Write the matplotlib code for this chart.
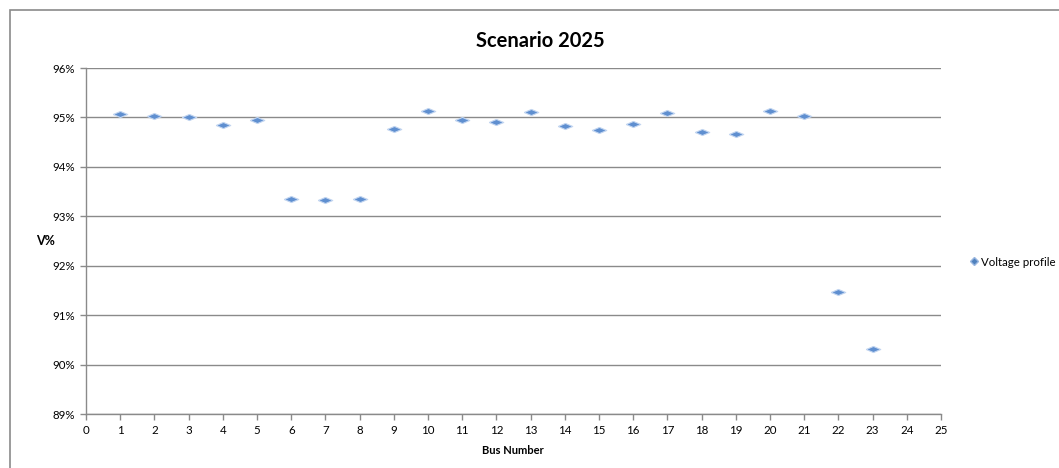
import matplotlib.pyplot as plt
from matplotlib.patches import Rectangle
from matplotlib.ticker import FuncFormatter

# Voltage profile per bus, scenario 2025
bus = list(range(1, 24))
volt = [95.07, 95.02, 95.00, 94.85, 94.95, 93.35, 93.32, 93.35, 94.77, 95.14,
        94.94, 94.90, 95.10, 94.83, 94.75, 94.87, 95.08, 94.71, 94.67, 95.14,
        95.02, 91.46, 90.32]

plt.rcParams['font.family'] = ['Lato', 'DejaVu Sans']
grey = '#8a8a8a'

fig = plt.figure(figsize=(10.59, 4.68), dpi=100)
ax = fig.add_axes([86/1059, 1 - 414/468, (941 - 86)/1059, (414 - 68)/468])

# outer chart frame (only top and left edges visible)
fig.patches.append(Rectangle((10/1059, -0.1), 1.2, 1 - 10/468 + 0.1,
                             transform=fig.transFigure, fill=False,
                             edgecolor=grey, lw=1.2))

# flattened diamond, like the stretched excel markers
flat = [(-1, 0), (0, 0.42), (1, 0), (0, -0.42), (-1, 0)]
ax.plot(bus, volt, linestyle='none', marker=flat, markersize=10.5,
        markerfacecolor='#5f8fd0', markeredgecolor='#c2d5f0', markeredgewidth=0.8,
        zorder=3)

ax.set_xlim(0, 25)
ax.set_ylim(89, 96)
ax.set_xticks(range(0, 26))
ax.set_yticks(range(89, 97))
ax.yaxis.set_major_formatter(FuncFormatter(lambda v, p: f'{v:.0f}%'))
ax.grid(axis='y', color=grey, lw=1)
ax.set_axisbelow(True)
for s in ['top', 'right']:
    ax.spines[s].set_visible(False)
for s in ['left', 'bottom']:
    ax.spines[s].set_color(grey)
    ax.spines[s].set_linewidth(1)
ax.tick_params(colors=grey, labelcolor='black', labelsize=8.3, length=4, width=1)
ax.tick_params(axis='y', pad=4)
ax.tick_params(axis='x', pad=4)

fig.text(540/1059, 1 - 41/468, 'Scenario 2025', ha='center', va='center',
         fontsize=14.5, fontweight='bold')
fig.text(45/1059, 1 - 241/468, 'V%', ha='center', va='center',
         fontsize=9, fontweight='bold')
fig.text(513/1059, 1 - 451/468, 'Bus Number', ha='center', va='center',
         fontsize=8, fontweight='bold')

h, = ax.plot([], [], linestyle='none', marker='D', markersize=4.5,
             markerfacecolor='#4f81bd', markeredgecolor='#9ab7e0')
fig.legend([h], ['Voltage profile'], loc='center left',
           bbox_to_anchor=(964/1059, 1 - 262/468), frameon=False,
           fontsize=8.3, handlelength=0.8, handletextpad=0.15, borderpad=0)

fig.savefig('out.png', dpi=100)
